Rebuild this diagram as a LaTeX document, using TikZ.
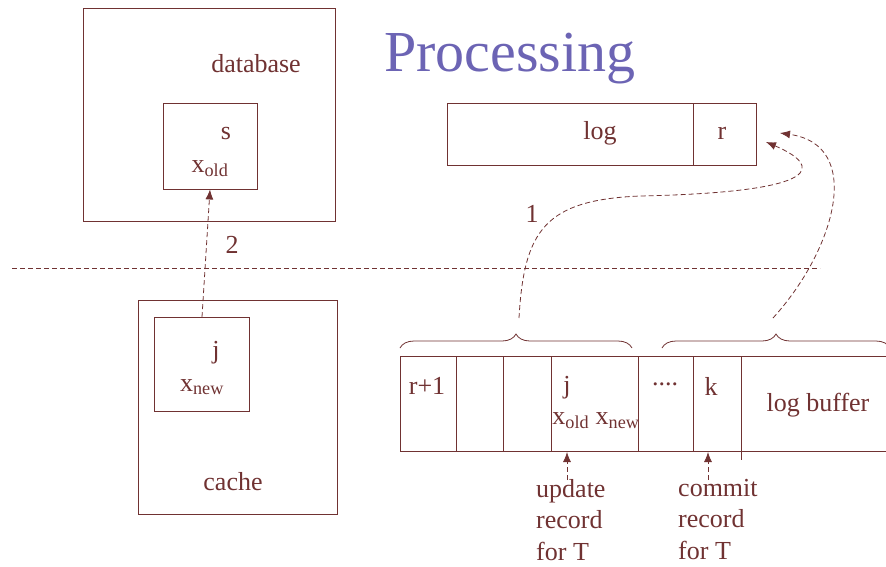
\documentclass[tikz,border=0pt]{standalone}
\usepackage{fontspec}
\setmainfont{Liberation Serif}
\usetikzlibrary{arrows.meta,decorations.pathreplacing}
\definecolor{ink}{RGB}{112,50,50}
\definecolor{titlec}{RGB}{108,100,180}
\begin{document}
\begin{tikzpicture}[x=1pt,y=-1pt,
  box/.style={draw=ink,line width=0.9pt},
  lbl/.style={text=ink,font=\fontsize{26}{31}\selectfont,inner sep=0pt},
  dline/.style={draw=ink,dash pattern=on 5pt off 3pt,line width=0.8pt},
  arr/.style={dline,-{Latex[length=10pt,width=8pt]}},
  brc/.style={draw=ink,line width=0.8pt,decorate,decoration={brace,amplitude=14pt}}]
\useasboundingbox (0,0) rectangle (886,566);
% title
\node[text=titlec,font=\fontsize{58}{60}\selectfont,inner sep=0pt] (title) at (510,59) {Processing};
% database
\node[box,minimum width=252pt,minimum height=213pt,inner sep=0pt] (db) at (209,114.5) {};
\node[lbl] (dbl) at (256,64) {database};
\node[box,minimum width=94pt,minimum height=86pt,inner sep=0pt] (sbox) at (210,146) {};
\node[lbl] (sl) at (226,133) {s};
\node[lbl] (xold) at (210,169) {x\textsubscript{old}};
% log
\node[box,minimum width=309pt,minimum height=62pt,inner sep=0pt] (log) at (601.5,134) {};
\draw[box] (693,103) -- (693,165);
\node[lbl] (logl) at (600,133) {log};
\node[lbl] (rl) at (722,133) {r};
\coordinate (rtip1) at (766,142);
\coordinate (rtip2) at (780,133);
% separator
\coordinate (sepL) at (12,268);
\coordinate (sepR) at (820,268);
\draw[dline,line width=0.7pt] (sepL) -- (sepR);
\node[lbl] (two) at (232,245) {2};
\node[lbl] (one) at (532,214) {1};
% cache
\node[box,minimum width=199pt,minimum height=214pt,inner sep=0pt] (cache) at (237.5,407) {};
\node[box,minimum width=95pt,minimum height=94pt,inner sep=0pt] (jbox) at (201.5,364) {};
\node[lbl] (jl) at (216,353) {j};
\node[lbl] (xnew) at (202,387) {x\textsubscript{new}};
\node[lbl] (cachel) at (233,482) {cache};
\draw[arr] (202,317) -- (sbox.south);
% log buffer
\coordinate (bTL) at (400,356);
\coordinate (bBL) at (400,451);
\draw[box] (886,356) -- (bTL) -- (bBL) -- (886,451);
\foreach \xx in {456,503,551,638,693} \draw[box] (\xx,356) -- (\xx,451);
\draw[box] (741,356) -- (741,460);
\node[lbl] (rp1) at (427,386) {r+1};
\node[lbl] (jj) at (567,388) {j};
\node[lbl] (xon) at (596,421) {x\textsubscript{old} x\textsubscript{new}};
\node[lbl] (dots) at (665,384) {....};
\node[lbl] (kk) at (711,386) {k};
\node[lbl] (lb) at (818,405) {log buffer};
% braces
\draw[brc] (400,348) -- (632,348);
\draw[brc] (662,348) -- (890,348);
\coordinate (b1s) at (519,318);
\coordinate (b2s) at (773,318);
\draw[arr] (b1s) .. controls (524,230) and (545,200) .. (640,196)
  .. controls (830,192) and (820,165) .. (rtip1);
\draw[arr] (b2s) .. controls (835,250) and (865,145) .. (rtip2);
% labels below
\node[lbl,align=left,anchor=north west,font=\fontsize{26}{31.5}\selectfont] (upd) at (536,479) {update\\record\\for T};
\node[lbl,align=left,anchor=north west,font=\fontsize{26}{31.5}\selectfont] (com) at (678,479) {commit\\record\\for T};
\draw[arr] (567,480) -- (567,452);
\draw[arr] (708,480) -- (708,452);
\end{tikzpicture}
\end{document}
